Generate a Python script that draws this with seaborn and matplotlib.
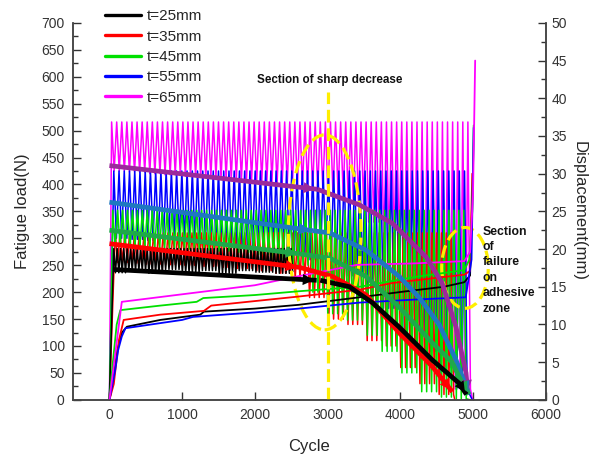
import matplotlib
matplotlib.use("Agg")
import matplotlib.pyplot as plt
import seaborn as sns
import pandas as pd
from matplotlib.lines import Line2D
from matplotlib.patches import Ellipse
from matplotlib.ticker import MultipleLocator, AutoMinorLocator

# --- load cycling (left axis, N) ---
# valley loads read every 250 cycles (0 ... 5000)
KNOT_STEP = 250
labels = ["t=25mm", "t=35mm", "t=45mm", "t=55mm", "t=65mm"]
line_colors = ["#000000", "#ff0000", "#00e000", "#0000ff", "#ff00ff"]

peak_load = {"t=25mm": 281, "t=35mm": 310, "t=45mm": 352, "t=55mm": 425, "t=65mm": 516}
valley_t25 = [236, 240, 235, 242, 237, 240, 235, 240, 237, 235, 238]
valley_t35 = [255, 254, 252, 251, 250, 248, 246, 244, 240, 235, 225, 190, 150, 140, 110, 100, 60, 30, 10, 0, 0]
valley_t45 = [285, 284, 283, 282, 280, 278, 276, 274, 270, 262, 250, 200, 160, 148, 120, 90, 50, 15, 5, 2, 0]
valley_t55 = [300, 298, 296, 294, 292, 290, 288, 285, 282, 278, 270, 260, 250, 230, 200, 170, 130, 90, 50, 20, 0]
valley_t65 = [425, 423, 420, 418, 415, 413, 410, 408, 405, 400, 395, 390, 380, 365, 330, 290, 240, 150, 60, 20, 0]
valleys = {"t=25mm": valley_t25, "t=35mm": valley_t35, "t=45mm": valley_t45,
           "t=55mm": valley_t55, "t=65mm": valley_t65}
# oscillation period / first peak / last cycle of the recorded load signal
period = {"t=25mm": 46, "t=35mm": 66, "t=45mm": 68, "t=55mm": 72, "t=65mm": 70}
first_peak = {"t=25mm": 60, "t=35mm": 80, "t=45mm": 45, "t=55mm": 60, "t=65mm": 30}
last_cycle = {"t=25mm": 2560, "t=35mm": 4750, "t=45mm": 4960, "t=55mm": 4990, "t=65mm": 4995}
drops_to_zero = {"t=25mm": False, "t=35mm": True, "t=45mm": True, "t=55mm": True, "t=65mm": True}

# --- displacement (right axis, mm) ---
disp_cycle_t25 = [0, 50, 110, 170, 240, 700, 1250, 1300, 2000, 2600, 3440, 4000, 4600, 4880, 4960, 4990]
disp_mm_t25 = [0, 2.5, 6.6, 8.9, 9.7, 10.6, 11.3, 11.7, 12.1, 12.6, 13.6, 14.3, 15.0, 15.6, 16.5, 27.0]
disp_cycle_t35 = [0, 60, 130, 196, 700, 1300, 1400, 2000, 2600, 3440, 3890, 4600, 4880, 4960, 4990]
disp_mm_t35 = [0, 2.1, 7.9, 10.6, 11.3, 11.8, 12.5, 13.1, 13.7, 14.6, 15.5, 16.3, 16.6, 17.1, 30.0]
disp_cycle_t45 = [0, 40, 100, 150, 700, 1200, 1290, 2000, 2600, 3440, 4200, 4880, 4950, 4990, 5010]
disp_mm_t45 = [0, 4.3, 10.0, 11.9, 12.5, 13.0, 13.5, 13.9, 14.4, 15.0, 16.3, 17.2, 18.6, 25.0, 36.4]
disp_cycle_t55 = [0, 80, 120, 170, 220, 1000, 1150, 2000, 2600, 3440, 4200, 4900, 4980, 5010]
disp_mm_t55 = [0, 4.0, 6.6, 8.4, 9.5, 10.6, 11.0, 11.6, 12.1, 12.9, 13.3, 13.6, 18.6, 36.1]
disp_cycle_t65 = [0, 170, 1000, 2000, 2600, 3400, 4200, 4880, 4960, 5000, 5030]
disp_mm_t65 = [0, 13.0, 14.0, 15.2, 16.4, 17.9, 18.1, 18.4, 19.6, 27.1, 45.0]
disp = {"t=25mm": (disp_cycle_t25, disp_mm_t25), "t=35mm": (disp_cycle_t35, disp_mm_t35),
        "t=45mm": (disp_cycle_t45, disp_mm_t45), "t=55mm": (disp_cycle_t55, disp_mm_t55),
        "t=65mm": (disp_cycle_t65, disp_mm_t65)}

# --- hand drawn trend arrows (cycle, load N): straight part, then curved part ---
trend_colors = ["#9b2a9b", "#1f78c0", "#1fa84a", "#ff0000", "#000000"]
trend_straight = [
    ([0, 2860], [435, 391]),
    ([0, 2800], [367, 314]),
    ([0, 2616], [315, 271]),
    ([0, 2616], [290, 246]),
    ([60, 2850], [242, 222]),
]
trend_curve = [
    ([2860, 3440, 3890, 4356, 4575, 4767, 4904, 4930], [391, 362, 328, 265, 217, 135, 50, 12]),
    ([2800, 3030, 3530, 3986, 4260, 4534, 4767, 4945], [314, 310, 278, 229, 190, 140, 74, 10]),
    ([2616, 3030, 3530, 3986, 4440, 4712, 4808, 4945], [271, 263, 229, 172, 106, 70, 43, 10]),
    ([2616, 3070, 3530, 3986, 4440, 4716], [246, 229, 195, 124, 62, 15]),
    ([2900, 3300, 3620, 3986, 4440, 4808, 4910], [222, 210, 180, 135, 74, 31, 10]),
]

sharp_cycle = 3000
sharp_top = 572


def zigzag(key):
    xs, ys = [0], [0]
    c = first_peak[key]
    vals = valleys[key]
    while c + period[key] / 2 < last_cycle[key]:
        xs.append(c)
        ys.append(peak_load[key])
        v = c + period[key] / 2
        xs.append(v)
        ys.append(vals[min(int(v // KNOT_STEP), len(vals) - 1)])
        c += period[key]
    if drops_to_zero[key]:
        xs.append(last_cycle[key])
        ys.append(0)
    return pd.DataFrame({"cycle": xs, "load": ys})


sns.set_theme(style="white")
plt.rcParams["font.family"] = ["Liberation Sans", "DejaVu Sans"]

fig = plt.figure(figsize=(5.99, 4.58), dpi=100)
ax = fig.add_axes([0.122, 0.127, 0.789, 0.823])
ax2 = ax.twinx()

# load signals
for key in ["t=65mm", "t=55mm", "t=35mm", "t=45mm", "t=25mm"]:
    col = line_colors[labels.index(key)]
    sns.lineplot(data=zigzag(key), x="cycle", y="load", sort=False, estimator=None,
                 color=col, lw=1.1, ax=ax)

# displacement curves
for key, col in zip(labels, line_colors):
    cx, mm = disp[key]
    sns.lineplot(x=cx, y=mm, sort=False, estimator=None, color=col, lw=1.3, ax=ax2)

# trend arrows on top (in load coordinates)
for col, (sx, sy), (cx, cy) in zip(trend_colors, trend_straight, trend_curve):
    ax2.plot(sx, sy, color=col, lw=3.4, solid_capstyle="butt", transform=ax.transData)
    ax2.annotate("", xy=(sx[-1], sy[-1]), xytext=(sx[-2], sy[-2]),
                 xycoords=ax.transData, textcoords=ax.transData,
                 arrowprops=dict(arrowstyle="-|>", color=col, lw=0, mutation_scale=20))
    ax2.plot(cx, cy, color=col, lw=3.4, solid_capstyle="butt", transform=ax.transData)
    ax2.annotate("", xy=(cx[-1], cy[-1]), xytext=(cx[-2], cy[-2]),
                 xycoords=ax.transData, textcoords=ax.transData,
                 arrowprops=dict(arrowstyle="-|>", color=col, lw=0, mutation_scale=19))

# yellow markers
yellow = "#ffee00"
ax2.plot([sharp_cycle, sharp_cycle], [0, sharp_top], color=yellow, lw=2.3,
         ls=(0, (4, 1.8)), transform=ax.transData)
ax2.add_patch(Ellipse((2960, 311), 1000, 362, fill=False, ec=yellow, lw=2.3,
                      ls=(0, (4, 1.8)), transform=ax.transData))
ax2.add_patch(Ellipse((4890, 245), 640, 150, fill=False, ec=yellow, lw=2.3,
                      ls=(0, (4, 1.8)), transform=ax.transData))

ax2.text(3030, 594, "Section of sharp decrease", transform=ax.transData,
         ha="center", va="center", fontsize=8.4, fontweight="bold", color="#111111")
ax2.text(5135, 241, "Section\nof\nfailure\non\nadhesive\nzone", transform=ax.transData,
         ha="left", va="center", fontsize=8.8, fontweight="bold", linespacing=1.38,
         color="#111111")

# axes
ax.set_xlim(-500, 6000)
ax.set_ylim(0, 700)
ax2.set_ylim(0, 50)
ax.xaxis.set_major_locator(MultipleLocator(1000))
ax.xaxis.set_minor_locator(AutoMinorLocator(2))
ax.yaxis.set_major_locator(MultipleLocator(50))
ax.yaxis.set_minor_locator(AutoMinorLocator(2))
ax2.yaxis.set_major_locator(MultipleLocator(5))
ax2.yaxis.set_minor_locator(AutoMinorLocator(2))

tick_col = "#333333"
for a in (ax, ax2):
    a.tick_params(which="both", direction="in", colors=tick_col, labelsize=10, width=1)
    a.tick_params(which="major", length=6)
    a.tick_params(which="minor", length=3.5)
    a.spines["top"].set_visible(False)
    for s in a.spines.values():
        s.set_color("#444444")
        s.set_linewidth(1.1)
ax.tick_params(axis="y", left=True, right=False, pad=6)
ax.tick_params(axis="x", bottom=True, pad=6)
ax2.tick_params(axis="y", right=True, left=False, pad=4)

ax.set_xlabel("Cycle", fontsize=12, labelpad=12)
ax.set_ylabel("Fatigue load(N)", fontsize=12, labelpad=8)
ax2.set_ylabel("Displacement(mm)", fontsize=12, rotation=270, labelpad=14)

handles = [Line2D([], [], color=c, lw=2.4) for c in line_colors]
fig.legend(handles, labels, loc="upper left", bbox_to_anchor=(0.175, 0.98),
           frameon=False, fontsize=11, handlelength=2.4, handletextpad=0.35,
           labelspacing=0.42, borderpad=0, borderaxespad=0)

fig.savefig("out.png", dpi=100)
